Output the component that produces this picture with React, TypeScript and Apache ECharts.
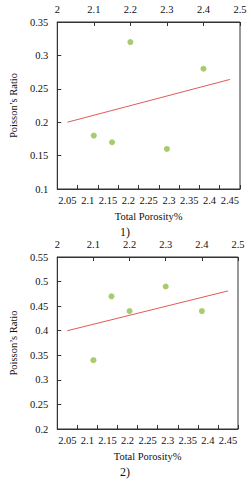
import React, { useEffect, useRef } from "react";
import * as echarts from "echarts";

const topTicks = [2, 2.5];
const bottomCategories = ["2.05", "2.1", "2.15", "2.2", "2.25", "2.3", "2.35", "2.4", "2.45"];

const points1: [number, number][] = [
  [2.1, 0.18],
  [2.15, 0.17],
  [2.2, 0.32],
  [2.3, 0.16],
  [2.4, 0.28],
];
const trend1: [string, number][] = [
  ["2.05", 0.2],
  ["2.45", 0.264],
];
const yRange1 = [0.1, 0.35];

const points2: [number, number][] = [
  [2.1, 0.34],
  [2.15, 0.47],
  [2.2, 0.44],
  [2.3, 0.49],
  [2.4, 0.44],
];
const trend2: [string, number][] = [
  ["2.05", 0.4],
  ["2.45", 0.481],
];
const yRange2 = [0.2, 0.55];

const xTitle = "Total Porosity%";
const yTitle = "Poisson\u2019s Ratio";
const panelLabels = ["1)", "2)"];

const FONT = "Liberation Serif";
const AX = "#333";
const GREEN = "#92BE4A";
const RED = "#E05A5A";

export default function App() {
  const ref = useRef<HTMLDivElement>(null);
  useEffect(() => {
    const chart = echarts.init(ref.current!, null, { renderer: "svg" });
    const lbl = { fontFamily: FONT, fontSize: 10.5, color: "#111" };
    const topAxis = (gi: number) => ({
      type: "value",
      gridIndex: gi,
      position: "top",
      min: topTicks[0],
      max: topTicks[1],
      interval: 0.1,
      axisLine: { show: true, onZero: false, lineStyle: { color: AX } },
      axisTick: { show: true, inside: true, length: 4, lineStyle: { color: AX } },
      axisLabel: { ...lbl, margin: 7 },
      splitLine: { show: false },
    });
    const bottomAxis = (gi: number) => ({
      type: "category",
      gridIndex: gi,
      position: "bottom",
      data: bottomCategories,
      boundaryGap: true,
      name: xTitle,
      nameLocation: "middle",
      nameGap: 22,
      nameTextStyle: { fontFamily: FONT, fontSize: 10.5, color: "#111" },
      axisLine: { show: true, onZero: false, lineStyle: { color: AX } },
      axisTick: { show: true, inside: true, length: 4, lineStyle: { color: AX } },
      axisLabel: { ...lbl, margin: 6, interval: 0 },
      splitLine: { show: false },
    });
    const yAxis = (gi: number, r: number[]) => ({
      type: "value",
      gridIndex: gi,
      min: r[0],
      max: r[1],
      interval: 0.05,
      name: yTitle,
      nameLocation: "middle",
      nameGap: 34,
      nameRotate: 90,
      nameTextStyle: { fontFamily: FONT, fontSize: 10.5, color: "#111" },
      axisLine: { show: true, onZero: false, lineStyle: { color: AX } },
      axisTick: { show: true, inside: true, length: 4, lineStyle: { color: AX } },
      axisLabel: { ...lbl, margin: 9 },
      splitLine: { show: false },
    });
    chart.setOption({
      animation: false,
      backgroundColor: "#fff",
      grid: [
        { left: 47, right: 12, top: 22, height: 167, show: true, borderColor: AX, borderWidth: 1 },
        { left: 44, right: 14, top: 257, height: 172, show: true, borderColor: AX, borderWidth: 1 },
      ],
      xAxis: [topAxis(0), bottomAxis(0), topAxis(1), bottomAxis(1)],
      yAxis: [yAxis(0, yRange1), yAxis(1, yRange2)],
      series: [
        {
          type: "scatter",
          xAxisIndex: 0,
          yAxisIndex: 0,
          data: points1,
          symbolSize: 6,
          itemStyle: { color: GREEN },
        },
        {
          type: "line",
          xAxisIndex: 1,
          yAxisIndex: 0,
          data: trend1,
          showSymbol: false,
          lineStyle: { color: RED, width: 1 },
        },
        {
          type: "scatter",
          xAxisIndex: 2,
          yAxisIndex: 1,
          data: points2,
          symbolSize: 6,
          itemStyle: { color: GREEN },
        },
        {
          type: "line",
          xAxisIndex: 3,
          yAxisIndex: 1,
          data: trend2,
          showSymbol: false,
          lineStyle: { color: RED, width: 1 },
        },
      ],
      graphic: [
        {
          type: "text",
          x: 125,
          y: 232,
          style: { text: panelLabels[0], fontFamily: FONT, fontSize: 12, fill: "#111", align: "center", verticalAlign: "middle" },
        },
        {
          type: "text",
          x: 125,
          y: 472,
          style: { text: panelLabels[1], fontFamily: FONT, fontSize: 12, fill: "#111", align: "center", verticalAlign: "middle" },
        },
      ],
    });
    return () => chart.dispose();
  }, []);
  return (
    <div
      ref={ref}
      style={{ position: "fixed", left: 0, top: 0, width: 252, height: 480, background: "#fff" }}
    />
  );
}
